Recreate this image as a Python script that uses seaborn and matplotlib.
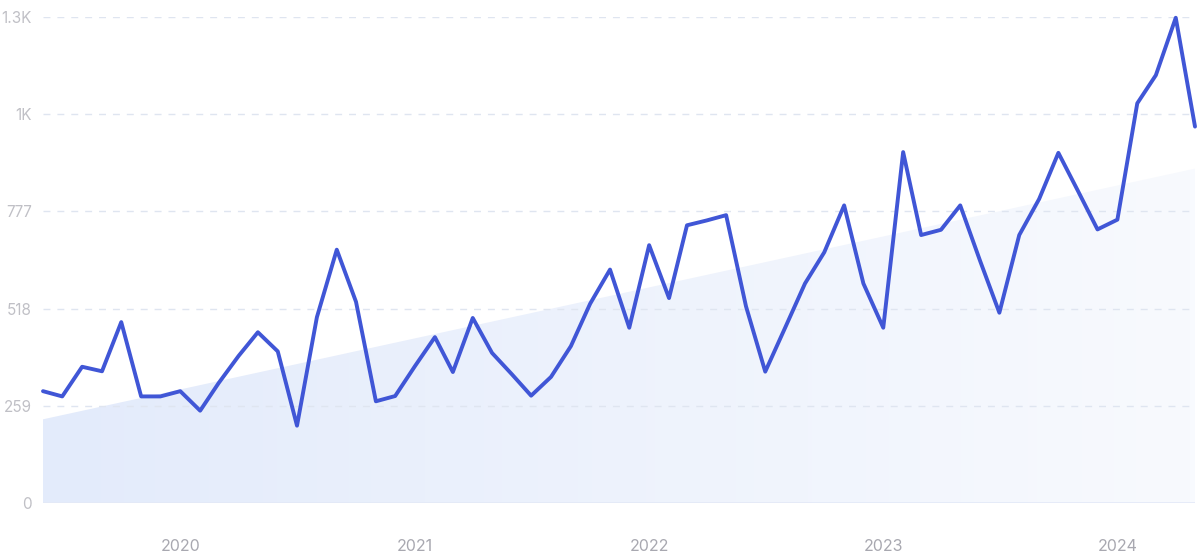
import numpy as np
import pandas as pd
import matplotlib
matplotlib.use("Agg")
import matplotlib.pyplot as plt
import matplotlib.dates as mdates
from matplotlib.colors import LinearSegmentedColormap
import seaborn as sns

sns.set_style("white")
plt.rcParams['font.family'] = ['Inter', 'DejaVu Sans']

# Monthly values, Jun 2019 .. May 2024
months = pd.date_range("2019-06-01", periods=60, freq="MS")
values = [298, 284, 363, 351, 482, 284, 284,
          298, 246, 320, 392, 455, 404, 206, 495, 675, 536, 271, 285,
          365, 442, 349, 493, 400, 343, 286, 336, 418, 531, 622, 467,
          687, 546, 740, 753, 767, 524, 350, 467, 585, 668, 793, 585,
          467, 935, 714, 728, 793, 645, 507, 714, 810, 933, 830, 729,
          755, 1065, 1140, 1293, 1003]

# trend area: start / end values
trend_values = [223, 891]

y_ticks = [0, 259, 518, 777, 1036, 1295]
y_labels = ['0', '259', '518', '777', '1K', '1.3K']
x_ticks = pd.to_datetime(['2020-01-01', '2021-01-01', '2022-01-01', '2023-01-01', '2024-01-01'])
x_labels = ['2020', '2021', '2022', '2023', '2024']

df = pd.DataFrame({'month': months, 'value': values})

fig = plt.figure(figsize=(12, 5.56), dpi=100)
ax = fig.add_axes([43 / 1200, 53 / 556, 1152 / 1200, 486 / 556])

x0, x1 = mdates.date2num(months[0]), mdates.date2num(months[-1])
ax.set_xlim(months[0], months[-1])
ax.set_ylim(0, 1295)

# gradient trend area
trend_x = [months[0], months[-1]]
poly = ax.fill_between(trend_x, 0, trend_values, color='none', lw=0)
cmap = LinearSegmentedColormap.from_list('fade', ['#e3ebfb', '#f8fafe'])
grad = np.linspace(0, 1, 256).reshape(1, -1)
img = ax.imshow(grad, cmap=cmap, aspect='auto', extent=[x0, x1, 0, 1295],
                origin='lower', zorder=0.5)
img.set_clip_path(poly.get_paths()[0], transform=ax.transData)

# grid lines
for yt in y_ticks[1:]:
    ax.axhline(yt, color='#dfe5f0', lw=1, ls=(0, (5, 5)), zorder=1)
ax.axhline(0, color='#e3e9f7', lw=1.2, zorder=1)

sns.lineplot(data=df, x='month', y='value', ax=ax, color='#4056d6',
             lw=2.8, zorder=3, clip_on=False)

ax.set_yticks(y_ticks)
ax.set_yticklabels(y_labels)
ax.set_xticks(x_ticks)
ax.set_xticklabels(x_labels)
ax.tick_params(axis='y', length=0, pad=8, labelsize=11, labelcolor='#c0c0c6')
ax.tick_params(axis='x', length=0, pad=26, labelsize=11.5, labelcolor='#a8a8b0')
ax.set_xlabel('')
ax.set_ylabel('')
for s in ax.spines.values():
    s.set_visible(False)

fig.savefig('out.png', dpi=100)
